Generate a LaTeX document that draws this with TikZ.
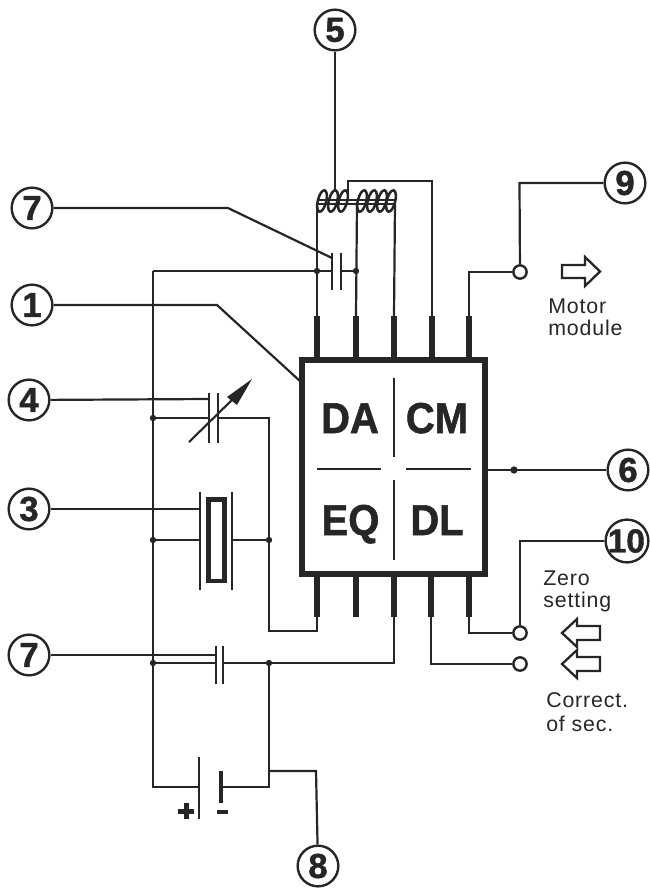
\documentclass[tikz,border=0pt]{standalone}
\usepackage{fontspec}
\setmainfont{Liberation Sans}[BoldFeatures={FakeBold=1.3}]
\newfontfamily\plainbold{Liberation Sans}[BoldFeatures={FakeBold=0.8}]
\definecolor{ink}{HTML}{262626}
\tikzset{
  wire/.style={draw=ink,line width=2.2pt*0.75,line join=miter},
  coilw/.style={draw=ink,line width=1.9pt},
  pinw/.style={draw=ink,line width=6pt*0.75},
  plate/.style={draw=ink,line width=2.3pt*0.75},
  refc/.style={circle,draw=ink,line width=2.4pt*0.75,fill=white,minimum size=30.5pt,inner sep=0pt,text=ink,font=\fontsize{26}{26}\selectfont\bfseries},
  termc/.style={circle,draw=ink,line width=2.4pt*0.75,fill=white,minimum size=10pt,inner sep=0pt},
  jn/.style={circle,fill=ink,minimum size=4.8pt,inner sep=0pt},
  chip/.style={text=ink,anchor=base,inner sep=0pt,yscale=1.08,transform shape,font=\fontsize{30}{30}\selectfont\bfseries},
  capt/.style={text=ink,align=left,font=\fontsize{16}{16.5}\selectfont,inner sep=0pt},
  hollow/.style={draw=ink,line width=2.3pt*0.75,fill=white,line join=miter},
}
\begin{document}
\begin{tikzpicture}[x=0.75pt,y=-0.75pt]
\useasboundingbox (0,0) rectangle (650,890);

% numbered circles
\node[refc] (n5) at (335,30) {5};
\node[refc] (n7a) at (32,208) {7};
\node[refc] (n1) at (32,305) {1};
\node[refc] (n4) at (29,400) {4};
\node[refc] (n3) at (29,509) {3};
\node[refc] (n7b) at (29,655) {7};
\node[refc] (n8) at (318,866) {8};
\node[refc] (n9) at (625,183) {9};
\node[refc] (n6) at (628,470) {6};
\node[refc,font=\fontsize{25}{25}\selectfont\bfseries] (n10) at (627,541) {\kern-1pt 10};

% chip
\node[draw=ink,line width=5.5pt*0.75,minimum width=137.5pt,minimum height=160.5pt,inner sep=0pt] (ic) at (393.5,467) {};
\node[chip] (da) at (350,433) {DA};
\node[chip] (cm) at (437,433) {CM};
\node[chip] (eq) at (350.5,535) {EQ};
\node[chip] (dl) at (437,535) {DL};
\coordinate (v1) at (394,378); \coordinate (v2) at (394,457);
\coordinate (v3) at (394,480); \coordinate (v4) at (394,560);
\coordinate (h1) at (317,469); \coordinate (h2) at (381,469);
\coordinate (h3) at (406,469); \coordinate (h4) at (471,469);
\draw[wire] (v1)--(v2) (v3)--(v4) (h1)--(h2) (h3)--(h4);

% top pins
\foreach \n/\x in {a/317,b/356,c/394,d/432,e/469}{
  \coordinate (t\n) at (\x,316);
  \coordinate (T\n) at (\x,360);
  \draw[pinw] (t\n)--(T\n);
}
% bottom pins
\foreach \n/\x in {a/317,b/356,c/394,d/431,e/469}{
  \coordinate (b\n) at (\x,617);
  \coordinate (B\n) at (\x,574);
  \draw[pinw] (B\n)--(b\n);
}

% coils
\foreach \c in {322,333,343,362,372,382,391}{
  \draw[coilw] (\c,201) ellipse[x radius=4.2,y radius=11,rotate=-14];
}
\coordinate (c1l) at (317,204); \coordinate (c1r) at (347,204);
\coordinate (c2l) at (357,204); \coordinate (c2r) at (395,204);
\draw[wire] (c1l)--(c2r) ([yshift=3pt]c1l)--([yshift=3pt]c2r);
\draw[wire] (n5)--(335,190);
\draw[wire] (c1l)--(ta);
\draw[wire] (c2l)--(tb);
\draw[wire] (c2r)--(tc);
\draw[wire] (348,200)--(348,181)--(432,181)--(td);

% top capacitor
\coordinate (ja) at (317,271); \coordinate (jb) at (356,271);
\coordinate (tl) at (153,271);
\draw[wire] (tl)--(332,271) (341,271)--(jb);
\draw[plate] (332,253)--(332,290) (341,253)--(341,290);
\node[jn] at (ja) {}; \node[jn] at (jb) {};
\draw[wire] (n7a)--(228,208)--(332,258);

% 1 leader
\draw[wire] (n1)--(217,305)--(301,382);

% left rail
\coordinate (jc) at (153,418); \coordinate (jd) at (153,540);
\coordinate (je) at (153,663);
\draw[wire] (tl)--(153,787)--(199,787);

% variable capacitor
\draw[wire] (n4)--(209,399);
\draw[plate] (209,393)--(209,443) (218,393)--(218,443);
\draw[wire] (jc)--(209,418);
\draw[wire] (218,418)--(269,418)--(269,631)--(317,631)--(ba);
\draw[wire,line width=1.6pt] (189,442)--(236,396);
\fill[ink] (252,379)--(227,397)--(237,405)--cycle;

% crystal
\draw[wire] (n3)--(200,509);
\draw[wire] (jd)--(200,540) (232,540)--(269,540);
\draw[plate] (200,492)--(200,590) (232,492)--(232,590);
\draw[draw=ink,line width=4.5pt*0.75] (208.5,499.5) rectangle (224.5,581);
\node[jn] at (jc) {}; \node[jn] at (jd) {}; \node[jn] at (269,540) {};

% lower capacitor
\draw[wire] (n7b)--(216,655);
\draw[wire] (je)--(216,663);
\draw[plate] (216,646)--(216,684) (223,646)--(223,684);
\draw[wire] (223,663)--(394,663)--(bc);
\coordinate (jf) at (269,663);
\node[jn] at (je) {}; \node[jn] at (jf) {};

% battery
\draw[plate] (199,757)--(199,819);
\draw[draw=ink,line width=4.5pt*0.75] (221,771)--(221,803);
\draw[wire] (221,787)--(269,787)--(jf);
\draw[wire] (269,771)--(316,771)--(n8);
\draw[draw=ink,line width=5pt*0.75] (178,811)--(194,811) (186,803)--(186,819);
\draw[draw=ink,line width=4.5pt*0.75] (217,812)--(228,812);

% 9
\node[termc] (t9) at (520,272) {};
\draw[wire] (n9)--(519.5,183)--(t9);
\draw[wire] (t9)--(469,272)--(te);

% 6
\draw[wire] (ic.east |- n6)--(n6);
\node[jn,minimum size=5.5pt] at (514,470) {};

% 10 and lower terminals
\node[termc] (t10) at (520,633) {};
\node[termc] (t11) at (520,664) {};
\draw[wire] (n10)--(520,541)--(t10);
\draw[wire] (be)--(469,633)--(t10);
\draw[wire] (bd)--(431,664)--(t11);

% hollow arrows
\draw[hollow] (562,265)--(585,265)--(585,257)--(600,271.5)--(585,286)--(585,278)--(562,278)--cycle;
\draw[hollow] (562,633)--(577,619)--(577,626)--(600,626)--(600,640)--(577,640)--(577,647)--cycle;
\draw[hollow] (562,664)--(577,650)--(577,657)--(600,657)--(600,671)--(577,671)--(577,678)--cycle;

% captions
\node[capt,anchor=west] (mm) at (548,317) {\addfontfeature{LetterSpace=4}Motor\\\addfontfeature{LetterSpace=4}module};
\node[capt,anchor=west] (zs) at (543,591) {\addfontfeature{LetterSpace=4}Zero\\\addfontfeature{LetterSpace=4}setting};
\node[capt,anchor=west] (cs) at (546,712) {\addfontfeature{LetterSpace=4}Correct.\\[2pt]\addfontfeature{LetterSpace=4}of sec.};
\end{tikzpicture}
\end{document}
